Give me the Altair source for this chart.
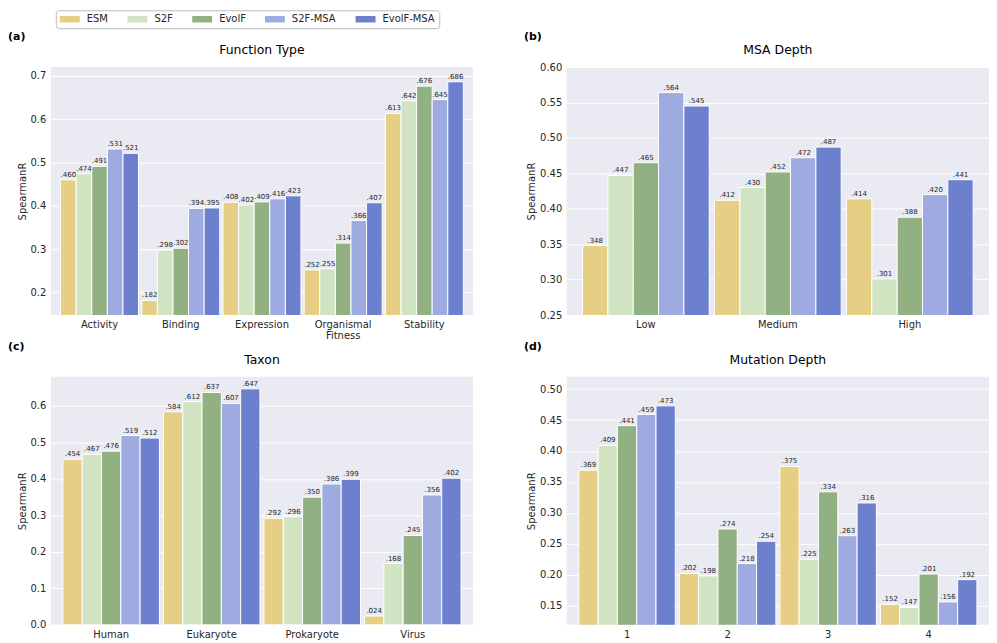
import altair as alt
import pandas as pd

models = ["ESM", "S2F", "EvolF", "S2F-MSA", "EvolF-MSA"]
colors = ["#E6CF85", "#D0E4C2", "#92B183", "#9DABE0", "#6D80CD"]

# (a) Function Type
func_cats = ["Activity", "Binding", "Expression", "Organismal Fitness", "Stability"]
func_esm = [0.460, 0.182, 0.408, 0.252, 0.613]
func_s2f = [0.474, 0.298, 0.402, 0.255, 0.642]
func_evolf = [0.491, 0.302, 0.409, 0.314, 0.676]
func_s2f_msa = [0.531, 0.394, 0.416, 0.366, 0.645]
func_evolf_msa = [0.521, 0.395, 0.423, 0.407, 0.686]

# (b) MSA Depth
msa_cats = ["Low", "Medium", "High"]
msa_esm = [0.348, 0.412, 0.414]
msa_s2f = [0.447, 0.430, 0.301]
msa_evolf = [0.465, 0.452, 0.388]
msa_s2f_msa = [0.564, 0.472, 0.420]
msa_evolf_msa = [0.545, 0.487, 0.441]

# (c) Taxon
tax_cats = ["Human", "Eukaryote", "Prokaryote", "Virus"]
tax_esm = [0.454, 0.584, 0.292, 0.024]
tax_s2f = [0.467, 0.612, 0.296, 0.168]
tax_evolf = [0.476, 0.637, 0.350, 0.245]
tax_s2f_msa = [0.519, 0.607, 0.386, 0.356]
tax_evolf_msa = [0.512, 0.647, 0.399, 0.402]

# (d) Mutation Depth
mut_cats = ["1", "2", "3", "4"]
mut_esm = [0.369, 0.202, 0.375, 0.152]
mut_s2f = [0.409, 0.198, 0.225, 0.147]
mut_evolf = [0.441, 0.274, 0.334, 0.201]
mut_s2f_msa = [0.459, 0.218, 0.263, 0.156]
mut_evolf_msa = [0.473, 0.254, 0.316, 0.192]

FONT = "DejaVu Sans"
TXT = "#262626"
W, H = 424, 249


def make_df(cats, series):
    rows = []
    for m, vals in zip(models, series):
        for c, v in zip(cats, vals):
            rows.append({"cat": c, "model": m, "value": v, "label": f"{v:.3f}"[1:]})
    return pd.DataFrame(rows)


def panel(cats, series, title, letter, ydomain, yticks, yfmt, show_legend=False):
    df = make_df(cats, series)
    base = alt.Chart(df)
    x = alt.X("cat:N", sort=cats,
              scale=alt.Scale(paddingInner=0.04, paddingOuter=0.12),
              axis=alt.Axis(title=None, labelAngle=0, labelExpr="split(datum.value, ' ')",
                            ticks=False, domain=False, grid=False, labelPadding=5,
                            labelFontSize=10, labelColor=TXT, labelFont=FONT,
                            labelLineHeight=11))
    xo = alt.XOffset("model:N", sort=models, scale=alt.Scale(paddingInner=0, paddingOuter=0))
    y = alt.Y("value:Q",
              scale=alt.Scale(domain=ydomain, nice=False, zero=False),
              axis=alt.Axis(title="SpearmanR", values=yticks, format=yfmt, ticks=False,
                            domain=False, gridColor="white", gridWidth=1, labelPadding=5,
                            labelFontSize=10, labelColor=TXT, labelFont=FONT,
                            titleFontSize=10, titleColor=TXT, titleFont=FONT,
                            titleFontWeight="normal", titlePadding=3))
    if show_legend:
        leg = alt.Legend(title=None, orient="none", legendX=5, legendY=-57,
                         direction="horizontal", columns=5,
                         symbolType="M-1,-0.65L3,-0.65L3,0.65L-1,0.65Z", symbolSize=100,
                         symbolStrokeWidth=0, symbolOpacity=1,
                         labelFontSize=10, labelFont=FONT, labelColor=TXT,
                         labelOffset=17, columnPadding=19, padding=4,
                         strokeColor="#bbbbbb", cornerRadius=3, fillColor="white")
    else:
        leg = None
    color = alt.Color("model:N", sort=models,
                      scale=alt.Scale(domain=models, range=colors), legend=leg)
    bars = base.mark_bar(stroke="white", strokeWidth=1, clip=True).encode(
        x=x, xOffset=xo, y=y, color=color)
    labels = base.mark_text(dy=-2, baseline="bottom", fontSize=7, font=FONT,
                            color=TXT).encode(x=x, xOffset=xo, y=y, text="label:N")
    lab = alt.Chart(pd.DataFrame({"t": [letter]})).mark_text(
        align="left", baseline="middle", fontSize=11, fontWeight="bold", font=FONT,
        color="black").encode(x=alt.value(-43), y=alt.value(-30), text="t:N")
    ttl = alt.Chart(pd.DataFrame({"t": [title]})).mark_text(
        align="center", baseline="middle", fontSize=12.5, font=FONT,
        color="black").encode(x=alt.value(W / 2), y=alt.value(-17), text="t:N")
    return alt.layer(bars, labels, lab, ttl).properties(width=W, height=H)


pa = panel(func_cats, [func_esm, func_s2f, func_evolf, func_s2f_msa, func_evolf_msa],
           "Function Type", "(a)", [0.148, 0.72], [0.2, 0.3, 0.4, 0.5, 0.6, 0.7], ".1f",
           show_legend=True)
pb = panel(msa_cats, [msa_esm, msa_s2f, msa_evolf, msa_s2f_msa, msa_evolf_msa],
           "MSA Depth", "(b)", [0.25, 0.60],
           [0.25, 0.30, 0.35, 0.40, 0.45, 0.50, 0.55, 0.60], ".2f")
pc = panel(tax_cats, [tax_esm, tax_s2f, tax_evolf, tax_s2f_msa, tax_evolf_msa],
           "Taxon", "(c)", [0.0, 0.68], [0.0, 0.1, 0.2, 0.3, 0.4, 0.5, 0.6], ".1f")
pd_ = panel(mut_cats, [mut_esm, mut_s2f, mut_evolf, mut_s2f_msa, mut_evolf_msa],
            "Mutation Depth", "(d)", [0.119, 0.52],
            [0.15, 0.20, 0.25, 0.30, 0.35, 0.40, 0.45, 0.50], ".2f")

row1 = alt.hconcat(pa, pb, spacing=51).resolve_scale(xOffset="independent", x="independent")
row2 = alt.hconcat(pc, pd_, spacing=51).resolve_scale(xOffset="independent", x="independent")

chart = alt.vconcat(row1, row2, spacing=0).resolve_scale(
    xOffset="independent", x="independent").properties(padding=0).configure_view(
    stroke=None, fill="#EAEAF2")

chart.save("out.html", embed_options={"renderer": "svg", "actions": False})
